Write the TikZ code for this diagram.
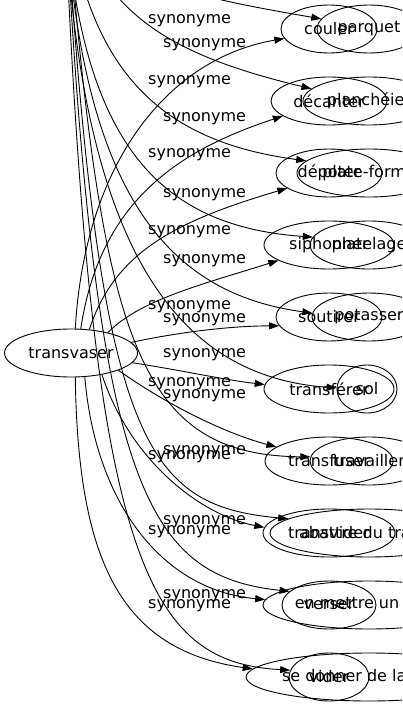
\documentclass[tikz,border=0pt]{standalone}
\usepackage{fontspec}
\setmainfont{DejaVu Sans}
\usetikzlibrary{shapes.geometric,arrows.meta}

\begin{document}
\begin{tikzpicture}[x=1pt,y=-1pt,font=\fontsize{16}{19}\selectfont,
  word/.style={draw,ellipse,line width=0.9pt,inner sep=0pt,minimum height=48pt},
  rel/.style={anchor=west,inner sep=0pt},
  link/.style={line width=0.9pt,-{Triangle[length=10pt,width=7pt]}}]
\useasboundingbox (0,0) rectangle (402,707);
\clip (0,0) rectangle (402,707);

\node[word,minimum width=133pt] (transvaser) at (71,353) {transvaser};
\coordinate (plancher) at (62,-160);

\node[word,minimum width=96pt] (couler) at (329,29) {couler};
\node[word,minimum width=116pt] (decanter) at (329,101) {décanter};
\node[word,minimum width=106pt] (depoter) at (329,173) {dépoter};
\node[word,minimum width=130pt] (siphonner) at (329,245) {siphonner};
\node[word,minimum width=106pt] (soutirer) at (329,317) {soutirer};
\node[word,minimum width=130pt] (transferer) at (329,389) {transférer};
\node[word,minimum width=128pt] (transfuser) at (329,461) {transfuser};
\node[word,minimum width=132pt] (transvider) at (329,533) {transvider};
\node[word,minimum width=94pt] (verser) at (329,605) {verser};
\node[word,minimum width=80pt] (vider) at (329,677) {vider};

\node[word,minimum width=104pt] (parquet) at (369,29) {parquet};
\node[word,minimum width=132pt] (plancheier) at (369,101) {planchéier};
\node[word,minimum width=144pt] (plateforme) at (369,173) {plate-forme};
\node[word,minimum width=118pt] (platelage) at (369,245) {platelage};
\node[word,minimum width=114pt] (potasser) at (369,317) {potasser};
\node[word,minimum width=60pt] (sol) at (367,389) {sol};
\node[word,minimum width=118pt] (travailler) at (369,461) {travailler};
\node[word,minimum width=198pt] (abattre) at (369,533) {abattre du travail};
\node[word,minimum width=212pt] (mettre) at (369,605) {en mettre un coup};
\node[word,minimum width=244pt] (donner) at (369,677) {se donner de la peine};

\draw[link] (transvaser.80) .. controls (85,160) and (170,58) .. (couler.192);
\draw[link] (transvaser.68) .. controls (100,200) and (180,150) .. (decanter.198);
\draw[link] (transvaser.52) .. controls (115,250) and (180,220) .. (depoter.200);
\draw[link] (transvaser.29) .. controls (140,300) and (200,285) .. (siphonner.197);
\draw[link] (transvaser.10) .. controls (180,332) and (230,326) .. (soutirer.190);
\draw[link] (transvaser.-9) .. controls (180,370) and (225,380) .. (transferer.176);
\draw[link] (transvaser.-20) .. controls (160,400) and (220,432) .. (transfuser.165);
\draw[link] (transvaser.-35) .. controls (130,460) and (200,515) .. (transvider.175);
\draw[link] (transvaser.-60) .. controls (95,500) and (160,590) .. (mettre.177);
\draw[link] (transvaser.-80) .. controls (78,560) and (120,650) .. (donner.176);

\draw[link] (plancher) .. controls (90,-30) and (130,-14) .. (parquet.168);
\draw[link] (plancher) .. controls (75,0) and (150,50) .. (plancheier.168);
\draw[link] (plancher) .. controls (70,60) and (150,140) .. (plateforme.169);
\draw[link] (plancher) .. controls (68,120) and (140,225) .. (platelage.172);
\draw[link] (plancher) .. controls (70,150) and (140,290) .. (potasser.176);
\draw[link] (plancher) .. controls (70,220) and (160,375) .. (sol.178);
\draw[link] (plancher) .. controls (98,330) and (130,455) .. (travailler.176);
\draw[link] (plancher) .. controls (96,440) and (140,505) .. (abattre.170);
\draw[link] (plancher) .. controls (92,480) and (140,575) .. (verser.161);
\draw[link] (plancher) .. controls (88,550) and (140,662) .. (vider.170);

\node[rel] (a1) at (163,45) {synonyme};
\node[rel] (a2) at (163,119) {synonyme};
\node[rel] (a3) at (163,195) {synonyme};
\node[rel] (a4) at (163,261) {synonyme};
\node[rel] (a5) at (163,320) {synonyme};
\node[rel] (a6) at (163,355) {synonyme};
\node[rel] (a7) at (163,396) {synonyme};
\node[rel] (a8) at (163,452) {synonyme};
\node[rel] (a9) at (163,522) {synonyme};
\node[rel] (a10) at (163,596) {synonyme};

\node[rel] (b2) at (148,21) {synonyme};
\node[rel] (b3) at (148,82) {synonyme};
\node[rel] (b4) at (148,155) {synonyme};
\node[rel] (b5) at (148,232) {synonyme};
\node[rel] (b6) at (148,307) {synonyme};
\node[rel] (b7) at (148,384) {synonyme};
\node[rel] (b8) at (148,457) {synonyme};
\node[rel] (b9) at (148,532) {synonyme};
\node[rel] (b10) at (148,606) {synonyme};
\end{tikzpicture}
\end{document}
